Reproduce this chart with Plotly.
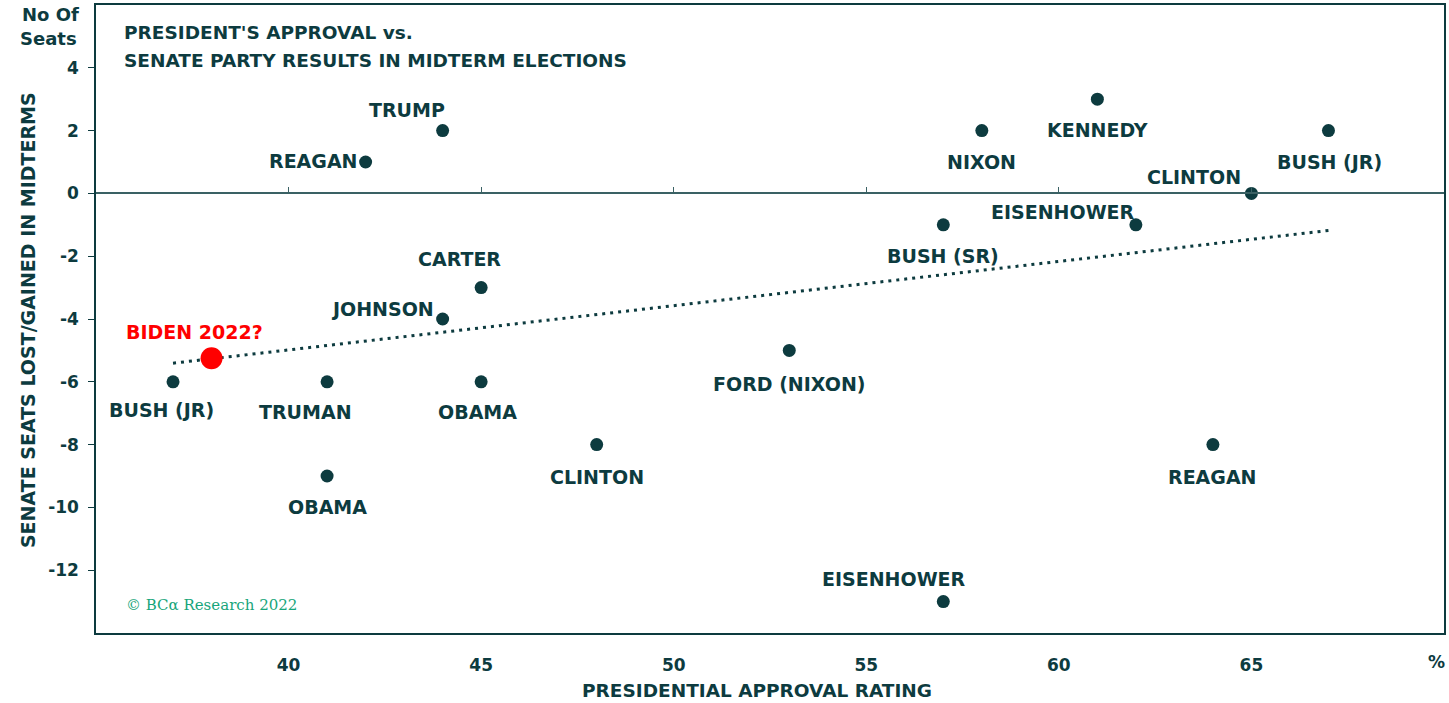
import numpy as np
import plotly.graph_objects as go

# ---- data ----
names = ["TRUMP", "REAGAN", "NIXON", "KENNEDY", "BUSH (JR)", "CLINTON", "EISENHOWER",
         "BUSH (SR)", "CARTER", "JOHNSON", "BUSH (JR)", "TRUMAN", "OBAMA", "FORD (NIXON)",
         "CLINTON", "OBAMA", "REAGAN", "EISENHOWER"]
approval = [44, 42, 58, 61, 67, 65, 62, 57, 45, 44, 37, 41, 45, 53, 48, 41, 64, 57]
seats = [2, 1, 2, 3, 2, 0, -1, -1, -3, -4, -6, -6, -6, -5, -8, -9, -8, -13]
biden_name = ["BIDEN 2022?"]
biden_approval = [38]
biden_seats = [-5.25]
x_ticks = [40, 45, 50, 55, 60, 65]
y_ticks = [-12, -10, -8, -6, -4, -2, 0, 2, 4]

# ---- style ----
DARK = "#0d3b3f"
RED = "#ff0000"
GREEN = "#17a57a"
FONT = "DejaVu Sans"
LBL = 19
# label placement per point: (xanchor, xshift, yshift)
label_pos = [
    ("center", -36, 21), ("right", -6, 1), ("center", 0, -31), ("center", 0, -31),
    ("center", 1, -31), ("right", -8, 16), ("right", 1, 13), ("center", 0, -31),
    ("center", -22, 29), ("right", -7, 10), ("center", -12, -28), ("center", -22, -30),
    ("center", -4, -30), ("center", 0, -34), ("center", 0, -32), ("center", 0, -31),
    ("center", 0, -32), ("center", -49, 23),
]

fig = go.Figure()

# trend line from the historical points
coef = np.polyfit(approval, seats, 1)
tx = np.array([min(approval), max(approval)])
fig.add_trace(go.Scatter(x=tx, y=np.polyval(coef, tx), mode="lines",
                         line=dict(color=DARK, width=3, dash="3px,5px"),
                         hoverinfo="skip", showlegend=False))

fig.add_trace(go.Scatter(x=approval, y=seats, mode="markers",
                         marker=dict(color=DARK, size=13), showlegend=False,
                         text=names))
fig.add_trace(go.Scatter(x=biden_approval, y=biden_seats, mode="markers",
                         marker=dict(color=RED, size=22), showlegend=False,
                         text=biden_name))

annotations = []
for n, xv, yv, (xa, xs, ys) in zip(names, approval, seats, label_pos):
    annotations.append(dict(x=xv, y=yv, xref="x", yref="y", text=n, showarrow=False,
                            xanchor=xa, yanchor="middle", xshift=xs, yshift=ys,
                            font=dict(family=FONT, size=LBL, color=DARK, weight="bold")))
annotations.append(dict(x=biden_approval[0], y=biden_seats[0], xref="x", yref="y",
                        text=biden_name[0], showarrow=False, xanchor="center",
                        yanchor="middle", xshift=-17, yshift=26,
                        font=dict(family=FONT, size=LBL, color=RED, weight="bold")))

L, R, T, B = 96, 3, 5, 70
W, H = 1449, 703
pw, ph = W - L - R, H - T - B


def px(xp):
    return (xp - L) / pw


def py(yp):
    return (H - B - yp) / ph


def txt(xp, yp, s, size, xa="center", **kw):
    return dict(x=px(xp), y=py(yp), xref="paper", yref="paper", text=s, showarrow=False,
                xanchor=xa, yanchor="middle",
                font=dict(family=FONT, size=size, color=DARK, weight="bold"), **kw)


annotations += [
    txt(122, 33, "PRESIDENT'S APPROVAL vs.", 18.5, "left"),
    txt(122, 60, "SENATE PARTY RESULTS IN MIDTERM ELECTIONS", 18.5, "left"),
    txt(50, 15, "No Of", 18),
    txt(48, 38, "Seats", 18),
    txt(28, 320, "SENATE SEATS LOST/GAINED IN MIDTERMS", 19, textangle=-90),
    txt(758, 690, "PRESIDENTIAL APPROVAL RATING", 18.5),
    txt(1438, 662, "%", 17),
    dict(x=px(124), y=py(605), xref="paper", yref="paper",
         text="© BCα Research 2022", showarrow=False, xanchor="left", yanchor="middle",
         font=dict(family="DejaVu Serif", size=15, color=GREEN)),
]

fig.update_layout(
    width=W, height=H,
    margin=dict(l=L, r=R, t=T, b=B),
    paper_bgcolor="white", plot_bgcolor="white",
    showlegend=False,
    annotations=annotations,
    xaxis=dict(range=[35, 70], tickvals=x_ticks, showgrid=False, zeroline=False,
               showline=True, linecolor=DARK, linewidth=1.5, mirror=True, ticks="",
               ticklabelstandoff=16,
               tickfont=dict(family=FONT, size=17, color=DARK, weight="bold")),
    xaxis2=dict(range=[35, 70], tickvals=x_ticks, overlaying="x", anchor="free",
                position=(0 - (-14)) / 20, side="top", showgrid=False, zeroline=False,
                showline=True, linecolor="#3a6164", linewidth=1.5, ticks="outside",
                ticklen=6, tickcolor="#3a6164", tickwidth=1.2, showticklabels=False),
    yaxis=dict(range=[-14, 6], tickvals=y_ticks, ticktext=[str(v) for v in y_ticks],
               showgrid=False, zeroline=False,
               showline=True, linecolor=DARK, linewidth=1.5, mirror=True,
               ticks="outside", ticklen=6, tickcolor=DARK, tickwidth=1.2,
               ticklabelstandoff=6,
               tickfont=dict(family=FONT, size=17, color=DARK, weight="bold")),
)
# invisible trace to activate xaxis2
fig.add_trace(go.Scatter(x=[35], y=[0], xaxis="x2", mode="markers",
                         marker=dict(opacity=0), hoverinfo="skip", showlegend=False))

fig.write_html("out.html", config={"displayModeBar": False},
               post_script="document.body.style.margin='0px';")
